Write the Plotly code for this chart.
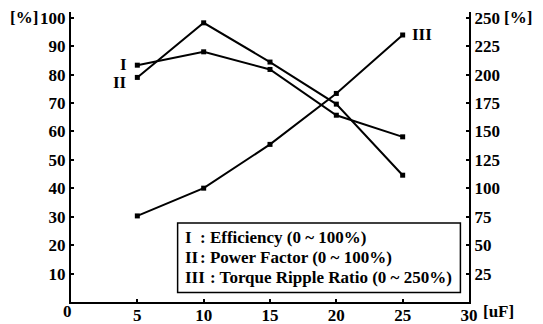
import plotly.graph_objects as go

# ---- data ----
capacitance = [5, 10, 15, 20, 25]                 # uF
efficiency = [83.3, 88.0, 81.8, 65.7, 58.1]       # %  (series I, left axis)
power_factor = [79.0, 98.2, 84.4, 69.6, 44.6]     # %  (series II, left axis)
torque_ripple = [75.7, 100.1, 138.6, 183.4, 234.8]  # % (series III, right axis)

x_ticks = [5, 10, 15, 20, 25, 30]
y_left_ticks = [10, 20, 30, 40, 50, 60, 70, 80, 90, 100]
y_right_ticks = [25, 50, 75, 100, 125, 150, 175, 200, 225, 250]

legend_lines = ["I", "II", "III"]
legend_texts = [": Efficiency (0 ~ 100%)", ": Power Factor (0 ~ 100%)", ": Torque Ripple Ratio (0 ~ 250%)"]

# ---- layout geometry (pixels) ----
W, H = 543, 324
L, R, T, B = 71, 469.3, 12, 301.7
FONT = "'Liberation Serif', 'Times New Roman', Times, serif"
FS = 17


def px(xp):
    return (xp - L) / (R - L)


def py(yp):
    return (B - yp) / (B - T)


fig = go.Figure()
line_style = dict(color="black", width=2)
marker_style = dict(color="black", size=5, symbol="square")
fig.add_trace(go.Scatter(x=capacitance, y=efficiency, mode="lines+markers",
                         line=line_style, marker=marker_style, yaxis="y"))
fig.add_trace(go.Scatter(x=capacitance, y=power_factor, mode="lines+markers",
                         line=line_style, marker=marker_style, yaxis="y"))
fig.add_trace(go.Scatter(x=capacitance, y=torque_ripple, mode="lines+markers",
                         line=line_style, marker=marker_style, yaxis="y2"))

tfont = dict(family=FONT, size=FS, color="black", weight="bold")

fig.update_layout(
    width=W, height=H,
    margin=dict(l=L, r=W - R, t=T, b=H - B, autoexpand=False),
    paper_bgcolor="white", plot_bgcolor="white",
    showlegend=False,
    font=tfont,
    xaxis=dict(range=[0, 30], tickvals=x_ticks, ticks="inside", ticklen=3,
               tickwidth=1.5, tickcolor="black", showline=True, linecolor="black",
               linewidth=2, showgrid=False, zeroline=False, tickfont=tfont,
               automargin=False, ticklabelstandoff=-3),
    yaxis=dict(range=[0, (B - T) / 2.84], tickvals=y_left_ticks, ticks="inside",
               ticklen=3, tickwidth=1.5, tickcolor="black", showline=True,
               linecolor="black", linewidth=2, showgrid=False, zeroline=False,
               tickfont=tfont, automargin=False),
    yaxis2=dict(range=[0, (B - T) / 2.84 * 2.5], tickvals=y_right_ticks,
                overlaying="y", side="right", ticks="inside", ticklen=3,
                tickwidth=1.5, tickcolor="black", showline=True, linecolor="black",
                linewidth=2, showgrid=False, zeroline=False, tickfont=tfont,
                automargin=False),
)

ann = []
# axis unit labels
ann.append(dict(x=px(40), y=py(17.7), xref="paper", yref="paper", text="[%]",
                showarrow=False, xanchor="right", yanchor="middle", font=tfont))
ann.append(dict(x=px(502), y=py(17.7), xref="paper", yref="paper", text="[%]",
                showarrow=False, xanchor="left", yanchor="middle", font=tfont))
ann.append(dict(x=px(481), y=py(311), xref="paper", yref="paper", text="[uF]",
                showarrow=False, xanchor="left", yanchor="middle", font=tfont))
ann.append(dict(x=px(67), y=py(311), xref="paper", yref="paper", text="0",
                showarrow=False, xanchor="center", yanchor="middle", font=tfont))
# curve labels
ann.append(dict(x=capacitance[0], y=efficiency[0], xref="x", yref="y", text="I",
                showarrow=False, xanchor="right", yanchor="middle", xshift=-8, yshift=1, font=tfont))
ann.append(dict(x=capacitance[0], y=power_factor[0], xref="x", yref="y", text="II",
                showarrow=False, xanchor="right", yanchor="middle", xshift=-8, yshift=-5, font=tfont))
ann.append(dict(x=capacitance[-1], y=torque_ripple[-1], xref="x", yref="y2", text="III",
                showarrow=False, xanchor="left", yanchor="middle", xshift=7, yshift=0, font=tfont))

# legend box
fig.add_shape(type="rect", xref="paper", yref="paper",
              x0=px(177.7), x1=px(460.7), y0=py(292.3), y1=py(222.7),
              line=dict(color="black", width=1.5), fillcolor="white", layer="above")
row_y = [237.7, 257.3, 277.7]
colon_x = [198, 198, 208]
for name, txt, ry, cx in zip(legend_lines, legend_texts, row_y, colon_x):
    ann.append(dict(x=px(183), y=py(ry), xref="paper", yref="paper", text=name,
                    showarrow=False, xanchor="left", yanchor="middle", font=tfont))
    ann.append(dict(x=px(cx), y=py(ry), xref="paper", yref="paper", text=txt,
                    showarrow=False, xanchor="left", yanchor="middle", font=tfont))

fig.update_layout(annotations=ann)
fig.write_html("out.html")
